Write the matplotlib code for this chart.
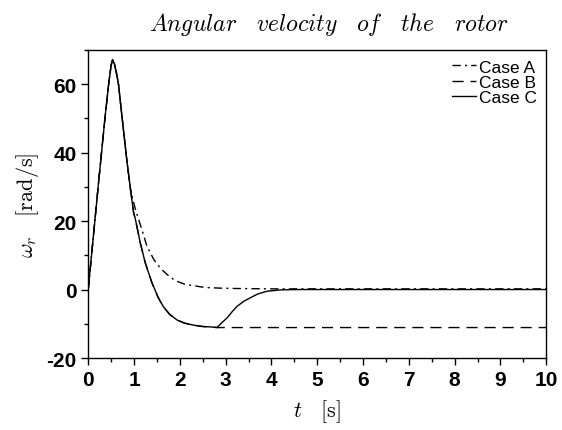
import matplotlib
matplotlib.use("Agg")
import matplotlib.pyplot as plt
from matplotlib.ticker import MultipleLocator

plt.rcParams["mathtext.fontset"] = "cm"
plt.rcParams["font.family"] = ["Liberation Sans", "DejaVu Sans"]
plt.rcParams["axes.unicode_minus"] = False

# --- Data ---
# common rise and peak, shared by all three cases
t_common = [0.0, 0.1, 0.225, 0.37, 0.45, 0.5, 0.53, 0.57, 0.62, 0.66,
            0.735, 0.845, 0.92]
w_common = [0.0, 13.9, 31.2, 50.7, 60.5, 65.5, 67.1, 66.0, 63.0, 60.0,
            50.7, 37.5, 29.5]

# case A (dash-dot) after it leaves the others
t_a = [0.99, 1.03, 1.17, 1.28, 1.43, 1.57, 1.72, 1.9, 2.12, 2.55,
       2.9, 3.25, 4.0, 10.0]
w_a = [25.5, 23.4, 17.6, 12.7, 8.8, 6.3, 4.4, 2.6, 1.5, 0.6,
       0.4, 0.3, 0.2, 0.2]

# case C (solid) after the peak
t_c = [0.99, 1.03, 1.135, 1.245, 1.39, 1.53, 1.64, 1.78, 1.94, 2.1,
       2.3, 2.5, 2.66, 2.81, 2.9, 3.03, 3.14, 3.25, 3.4, 3.54, 3.7, 3.9,
       4.2, 4.6, 10.0]
w_c = [22.5, 20.5, 13.7, 7.8, 2.0, -2.4, -5.0, -7.3, -8.9, -9.8,
       -10.4, -10.8, -10.9, -11.1, -9.9, -8.3, -6.5, -4.9, -3.4, -2.4,
       -1.3, -0.5, -0.1, 0.0, 0.0]

# case B (dashed) follows C until the kink, then stays flat
t_b = [0.99, 1.03, 1.135, 1.245, 1.39, 1.53, 1.64, 1.78, 1.94, 2.1,
       2.3, 2.5, 2.66, 2.81, 10.0]
w_b = [22.5, 20.5, 13.7, 7.8, 2.0, -2.4, -5.0, -7.3, -8.9, -9.8,
       -10.4, -10.8, -10.9, -11.1, -11.1]

xticks = list(range(0, 11))
yticks = [-20, 0, 20, 40, 60]

fig = plt.figure(figsize=(5.62, 4.31), dpi=100)
ax = fig.add_axes([0.157, 0.167, 0.815, 0.715])

ax.plot(t_common + t_a, w_common + w_a, color="black", lw=1.0,
        ls=(0, (6, 3, 1.5, 3)), label="Case A")
ax.plot(t_common + t_b, w_common + w_b, color="black", lw=1.0,
        ls=(0, (8, 5)), label="Case B")
ax.plot(t_common + t_c, w_common + w_c, color="black", lw=1.0,
        label="Case C")

ax.set_xlim(0, 10)
ax.set_ylim(-20, 70)
ax.set_xticks(xticks)
ax.set_yticks(yticks)
ax.xaxis.set_minor_locator(MultipleLocator(0.5))
ax.yaxis.set_minor_locator(MultipleLocator(10))
ax.tick_params(which="both", direction="out", top=False, right=False,
               width=1.0)
ax.tick_params(which="major", length=5, labelsize=15)
ax.tick_params(which="minor", length=3)
for lab in ax.get_xticklabels() + ax.get_yticklabels():
    lab.set_fontweight("bold")
for sp in ax.spines.values():
    sp.set_linewidth(1.0)

ax.set_title(r"$Angular\ \ \ velocity\ \ \ of\ \ \ the\ \ \ rotor$",
             fontsize=17, pad=14, x=0.525)
ax.set_xlabel(r"$t\ \ \ \mathrm{[s]}$", fontsize=16, labelpad=6)
ax.set_ylabel(r"$\omega_r\ \ \ \mathrm{[rad/s]}$", fontsize=16, labelpad=4)

ax.legend(loc="upper right", frameon=False, fontsize=12.5,
          handlelength=1.4, handletextpad=0.15, labelspacing=0.0,
          borderaxespad=0.15)

fig.savefig("out.png", dpi=100)
